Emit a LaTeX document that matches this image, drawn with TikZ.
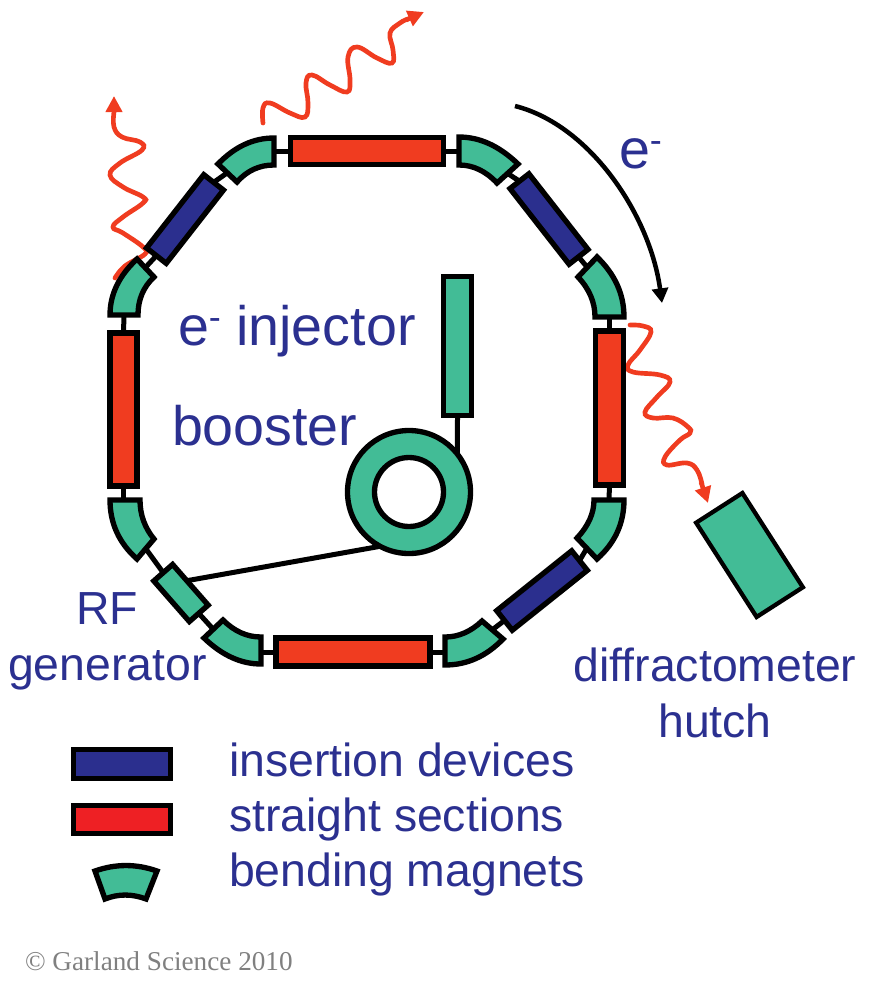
\documentclass[tikz,border=0pt]{standalone}
\usepackage{fontspec}
\setmainfont{Liberation Sans}
\newfontfamily\serifcopy{Liberation Serif}
\usetikzlibrary{arrows.meta,calc,shapes.geometric}
\definecolor{magnetgreen}{HTML}{42BC96}
\definecolor{sectionred}{HTML}{F03C20}
\definecolor{legendred}{HTML}{EE2024}
\definecolor{devblue}{HTML}{2B2F8E}
\definecolor{labelblue}{HTML}{2B3090}
\newcommand{\bigtext}{\fontsize{41.7}{45}\selectfont}
\newcommand{\midtext}{\fontsize{34.8}{40}\selectfont}
\newcommand{\eminus}{e\raisebox{12pt}{\fontsize{27}{27}\selectfont -}}
\tikzset{
  elem/.style={draw=black,line width=4pt,inner sep=0,outer sep=0,line join=miter,rectangle},
  redsec/.style={elem,fill=sectionred},
  bluesec/.style={elem,fill=devblue},
  greensec/.style={elem,fill=magnetgreen},
  magnetpath/.style={draw=black,line width=4pt,fill=magnetgreen,line join=miter},
  stem/.style={draw=black,line width=3.75pt},
  wave/.style={draw=sectionred,line width=3.5pt,line cap=round,smooth,tension=0.7},
  wavehead/.style={draw=sectionred,fill=sectionred,line width=3.5pt,-{Triangle[length=12pt,width=12pt]}},
  lab/.style={text=labelblue,inner sep=0,outer sep=0,anchor=base west}
}
\begin{document}
\begin{tikzpicture}[x=0.75pt,y=-0.75pt]
\useasboundingbox (0,0) rectangle (869,1000);

% synchrotron radiation
\draw[wave] plot coordinates {(263,123) (263,108) (270,103) (290,113) (305,117) (308,103) (306,83) (312,75) (330,85) (347,92) (350,80) (348,57) (357,47) (377,58) (392,63) (393,50) (390,33) (400,23) (408,19)};
\coordinate (w1a) at (406,20); \coordinate (w1b) at (424,12);
\draw[wavehead] (w1a) -- (w1b);
\draw[wave] plot coordinates {(115,278) (125,266) (145,254) (143,247) (123,233) (113,227) (123,217) (143,203) (143,197) (123,187) (110,175) (120,163) (142,150) (140,142) (122,137) (114,127) (114,112)};
\coordinate (w2a) at (114,116); \coordinate (w2b) at (114,96);
\draw[wavehead] (w2a) -- (w2b);
\draw[wave] plot coordinates {(630,325) (643,326) (651,332) (640,350) (628,365) (633,372) (660,375) (670,382) (657,397) (645,412) (653,418) (673,418) (688,427) (690,433) (680,440) (665,457) (667,465) (687,463) (697,470) (702,484)};
\coordinate (w3a) at (701,482); \coordinate (w3b) at (708,503);
\draw[wavehead] (w3a) -- (w3b);

% straight sections and insertion devices
\node[redsec,minimum width=153pt*0.75,minimum height=27pt*0.75] (rtop) at (367,151) {};
\node[redsec,minimum width=27pt*0.75,minimum height=153pt*0.75] (rleft) at (123.5,409.5) {};
\node[redsec,minimum width=28pt*0.75,minimum height=154pt*0.75] (rright) at (609.5,408) {};
\node[redsec,minimum width=154pt*0.75,minimum height=28pt*0.75] (rbottom) at (353,652) {};
\node[bluesec,rotate=52,minimum width=93pt*0.75,minimum height=25pt*0.75] (btl) at (185,219) {};
\node[bluesec,rotate=-52,minimum width=96pt*0.75,minimum height=24pt*0.75] (btr) at (549,219) {};
\node[bluesec,rotate=38.6,minimum width=96pt*0.75,minimum height=25pt*0.75] (bbr) at (542,590.5) {};
\node[greensec,rotate=-48.8,minimum width=54pt*0.75,minimum height=25pt*0.75] (rf) at (181,593) {};

% bending magnets
\path[magnetpath] (274,138) .. controls (253.3,138) and (234.7,146.7) .. (218,164) -- (237,182) .. controls (247,170.7) and (259.3,165) .. (274,165) -- cycle;
\coordinate (m1a) at (274,151); \coordinate (m1b) at (227,173);
\path[magnetpath] (137,259) .. controls (119,275.7) and (110,294.3) .. (110,315) -- (138,315) .. controls (138,299.7) and (143.3,287) .. (154,277) -- cycle;
\coordinate (m2a) at (145,268); \coordinate (m2b) at (124,315);
\path[magnetpath] (110,500) .. controls (110,523.3) and (119,543) .. (137,559) -- (154,539) .. controls (144.7,527.7) and (140,514.7) .. (140,500) -- cycle;
\coordinate (m3a) at (123.5,500); \coordinate (m3b) at (146,549);
\path[magnetpath] (204,638) .. controls (222,655.3) and (241,664) .. (261,664) -- (261,637) .. controls (247,637) and (234.3,631.3) .. (223,620) -- cycle;
\coordinate (m4a) at (213,629); \coordinate (m4b) at (261,652);
\path[magnetpath] (445,665) .. controls (467,665) and (486.3,656.3) .. (503,639) -- (482,621) .. controls (470.7,631.7) and (458.3,637) .. (445,637) -- cycle;
\coordinate (m5a) at (445,652); \coordinate (m5b) at (492,630);
\path[magnetpath] (624,500) .. controls (624,523.3) and (615,543) .. (597,559) -- (577,538) .. controls (588.3,526) and (594,513.3) .. (594,500) -- cycle;
\coordinate (m6a) at (609,500); \coordinate (m6b) at (587,548);
\path[magnetpath] (624,317) .. controls (624,294.3) and (615,274.3) .. (597,257) -- (578,277) .. controls (589.3,289) and (595,302.3) .. (595,317) -- cycle;
\coordinate (m7a) at (609.5,317); \coordinate (m7b) at (587,267);
\path[magnetpath] (459,137) .. controls (479.7,137) and (499.3,146) .. (518,164) -- (497,183) .. controls (485.7,171) and (473,165) .. (459,165) -- cycle;
\coordinate (m8a) at (459,151); \coordinate (m8b) at (507,173);

% links round the ring
\draw[stem] (rtop.west) -- (m1a);
\draw[stem] (m1b) -- (btl.east);
\draw[stem] (btl.west) -- (m2a);
\draw[stem] (m2b) -- (rleft.north);
\draw[stem] (rleft.south) -- (m3a);
\draw[stem] (m3b) -- (rf.west);
\draw[stem] (rf.east) -- (m4a);
\draw[stem] (m4b) -- (rbottom.west);
\draw[stem] (rbottom.east) -- (m5a);
\draw[stem] (m5b) -- (bbr.west);
\draw[stem] (bbr.east) -- (m6b);
\draw[stem] (m6a) -- (rright.south);
\draw[stem] (rright.north) -- (m7a);
\draw[stem] (m7b) -- (btr.east);
\draw[stem] (btr.west) -- (m8b);
\draw[stem] (m8a) -- (rtop.east);

% injector and booster
\node[greensec,minimum width=28pt*0.75,minimum height=139pt*0.75] (inj) at (457.5,346) {};
\node[draw=black,line width=4pt,fill=magnetgreen,circle,inner sep=0,outer sep=0,minimum size=123pt*0.75] (booster) at (409,492) {};
\node[draw=black,line width=4pt,fill=white,circle,inner sep=0,outer sep=0,minimum size=69pt*0.75] (boosterhole) at (409,492) {};
\draw[stem] (inj.south) -- (booster.38.7);
\draw[stem] ($(rf.north)!0.2!(rf.north west)$) -- (booster.242);

% hutch
\node[greensec,line width=3.2pt,rotate=-57.3,minimum width=112pt*0.75,minimum height=55pt*0.75] (hutch) at (749.5,555) {};

% electron direction
\coordinate (arcstart) at (515,106);
\coordinate (arcend) at (662,303);
\draw[line width=3.4pt,-{Triangle[length=11pt,width=12pt]}] (arcstart) .. controls (590,125) and (650,215) .. (arcend);

% legend
\node[elem,fill=devblue,minimum width=97pt*0.75,minimum height=29pt*0.75] (legblue) at (122,764) {};
\node[elem,fill=legendred,minimum width=97pt*0.75,minimum height=28pt*0.75] (legred) at (122,819.5) {};
\path[magnetpath] (95,871) .. controls (115.7,863.7) and (136.3,863.7) .. (157,871) -- (146,899) .. controls (132,893.7) and (118.3,893.7) .. (105,899) -- cycle;

% labels
\node[lab] (lbe) at (619,168) {\bigtext\eminus};
\node[lab] (lbinj) at (178,345) {\bigtext\eminus{} injector};
\node[lab] (lbbooster) at (172,445) {\bigtext booster};
\node[lab,anchor=base] (lbrf) at (107,624) {\midtext RF};
\node[lab,anchor=base] (lbgen) at (107.5,680) {\midtext generator};
\node[lab,anchor=base] (lbdiff) at (715,681) {\midtext diffractometer};
\node[lab,anchor=base] (lbhutch) at (715,737) {\midtext hutch};
\node[lab] (lbins) at (229,776) {\midtext insertion devices};
\node[lab] (lbstr) at (229,831) {\midtext straight sections};
\node[lab] (lbbend) at (229,886) {\midtext bending magnets};
\node[inner sep=0,outer sep=0,anchor=base west,text=black!50] (copy) at (25,970) {\serifcopy\fontsize{20.4}{24}\selectfont © Garland Science 2010};
\end{tikzpicture}
\end{document}
